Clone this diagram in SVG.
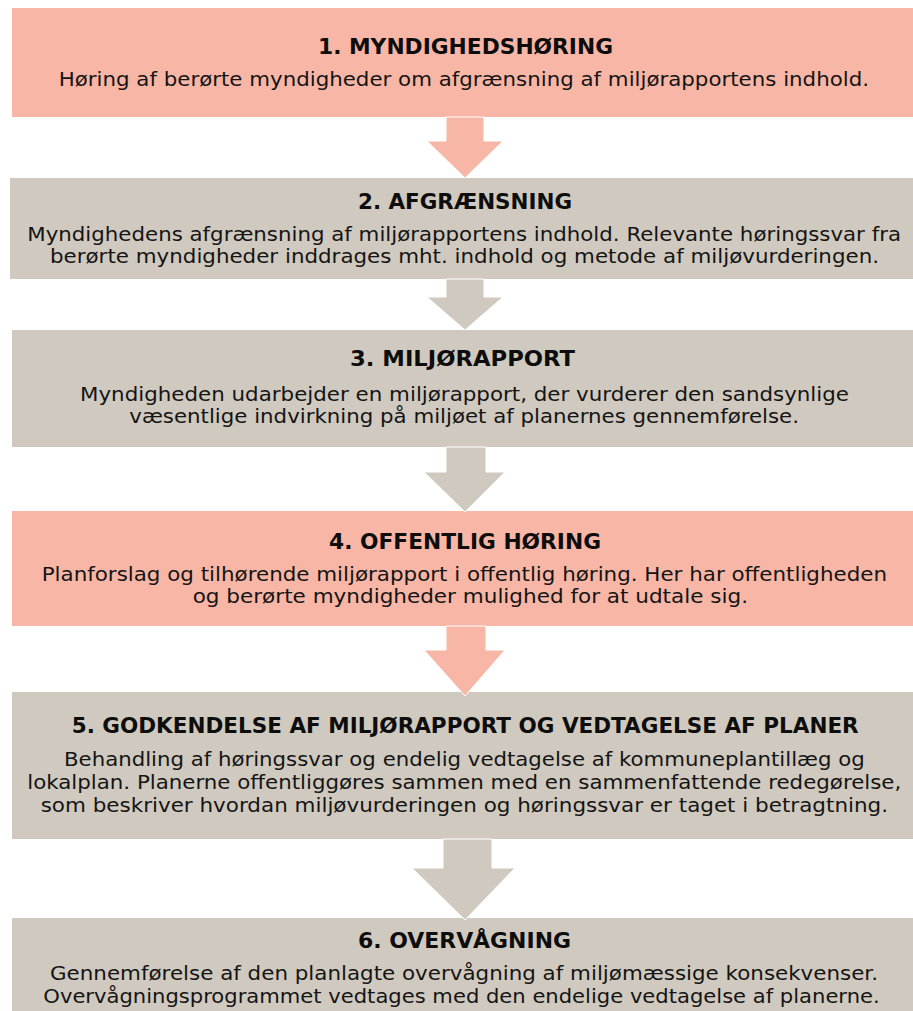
<svg xmlns="http://www.w3.org/2000/svg" width="913" height="1011" viewBox="0 0 913 1011">
<style>
.pink{fill:#F8B6A6}
.grey{fill:#D0C9BF}
.t{font-family:"DejaVu Sans","Verdana",sans-serif;font-weight:bold;font-size:21px;fill:#0d0d0d}
.b{font-family:"DejaVu Sans","Verdana",sans-serif;font-size:20px;fill:#141414}
.arr{stroke:#ffffff;stroke-width:1}
</style>
<rect width="913" height="1011" fill="#ffffff"/>
<g id="step1">
<rect class="pink" x="12" y="8" width="901" height="109"/>
<text class="t" x="318" y="54" textLength="295" lengthAdjust="spacingAndGlyphs">1. MYNDIGHEDSHØRING</text>
<text class="b" x="58.7" y="86" textLength="810.3" lengthAdjust="spacingAndGlyphs">Høring af berørte myndigheder om afgrænsning af miljørapportens indhold.</text>
</g>
<g id="step2">
<rect class="grey" x="10" y="178" width="903" height="101"/>
<text class="t" x="358" y="209" textLength="214" lengthAdjust="spacingAndGlyphs">2. AFGRÆNSNING</text>
<text class="b" x="27.3" y="240.7" textLength="873.7" lengthAdjust="spacingAndGlyphs">Myndighedens afgrænsning af miljørapportens indhold. Relevante høringssvar fra</text>
<text class="b" x="50" y="263" textLength="829" lengthAdjust="spacingAndGlyphs">berørte myndigheder inddrages mht. indhold og metode af miljøvurderingen.</text>
</g>
<g id="step3">
<rect class="grey" x="12" y="330" width="901" height="117"/>
<text class="t" x="350" y="366" textLength="225" lengthAdjust="spacingAndGlyphs">3. MILJØRAPPORT</text>
<text class="b" x="80" y="400.7" textLength="769" lengthAdjust="spacingAndGlyphs">Myndigheden udarbejder en miljørapport, der vurderer den sandsynlige</text>
<text class="b" x="129.3" y="423.3" textLength="669.7" lengthAdjust="spacingAndGlyphs">væsentlige indvirkning på miljøet af planernes gennemførelse.</text>
</g>
<g id="step4">
<rect class="pink" x="12" y="511" width="901" height="115"/>
<text class="t" x="329" y="549" textLength="272" lengthAdjust="spacingAndGlyphs">4. OFFENTLIG HØRING</text>
<text class="b" x="41.7" y="580.7" textLength="845.3" lengthAdjust="spacingAndGlyphs">Planforslag og tilhørende miljørapport i offentlig høring. Her har offentligheden</text>
<text class="b" x="192.7" y="603" textLength="555.3" lengthAdjust="spacingAndGlyphs">og berørte myndigheder mulighed for at udtale sig.</text>
</g>
<g id="step5">
<rect class="grey" x="12" y="692" width="901" height="147"/>
<text class="t" x="71.7" y="733.3" textLength="787" lengthAdjust="spacingAndGlyphs">5. GODKENDELSE AF MILJØRAPPORT OG VEDTAGELSE AF PLANER</text>
<text class="b" x="64" y="766" textLength="800.7" lengthAdjust="spacingAndGlyphs">Behandling af høringssvar og endelig vedtagelse af kommuneplantillæg og</text>
<text class="b" x="27.3" y="789.3" textLength="874" lengthAdjust="spacingAndGlyphs">lokalplan. Planerne offentliggøres sammen med en sammenfattende redegørelse,</text>
<text class="b" x="40.7" y="811.7" textLength="847.3" lengthAdjust="spacingAndGlyphs">som beskriver hvordan miljøvurderingen og høringssvar er taget i betragtning.</text>
</g>
<g id="step6">
<rect class="grey" x="12" y="918" width="901" height="93"/>
<text class="t" x="358" y="948" textLength="213" lengthAdjust="spacingAndGlyphs">6. OVERVÅGNING</text>
<text class="b" x="50" y="980" textLength="828" lengthAdjust="spacingAndGlyphs">Gennemførelse af den planlagte overvågning af miljømæssige konsekvenser.</text>
<text class="b" x="43.3" y="1003.3" textLength="836.4" lengthAdjust="spacingAndGlyphs">Overvågningsprogrammet vedtages med den endelige vedtagelse af planerne.</text>
</g>
<g id="connectors">
<polygon class="arr pink" points="446,117 484,117 484,141 503,141 465,178 427,141 446,141"/>
<polygon class="arr grey" points="446,279 484,279 484,297 503,297 465,330 427,297 446,297"/>
<polygon class="arr grey" points="446,447 486,447 486,472 505,472 465,512 424,472 446,472"/>
<polygon class="arr pink" points="446,626 486,626 486,650 505,650 465,696 424,650 446,650"/>
<polygon class="arr grey" points="443,839 492,839 492,868 515,868 465,920 412,868 443,868"/>
</g>
</svg>
